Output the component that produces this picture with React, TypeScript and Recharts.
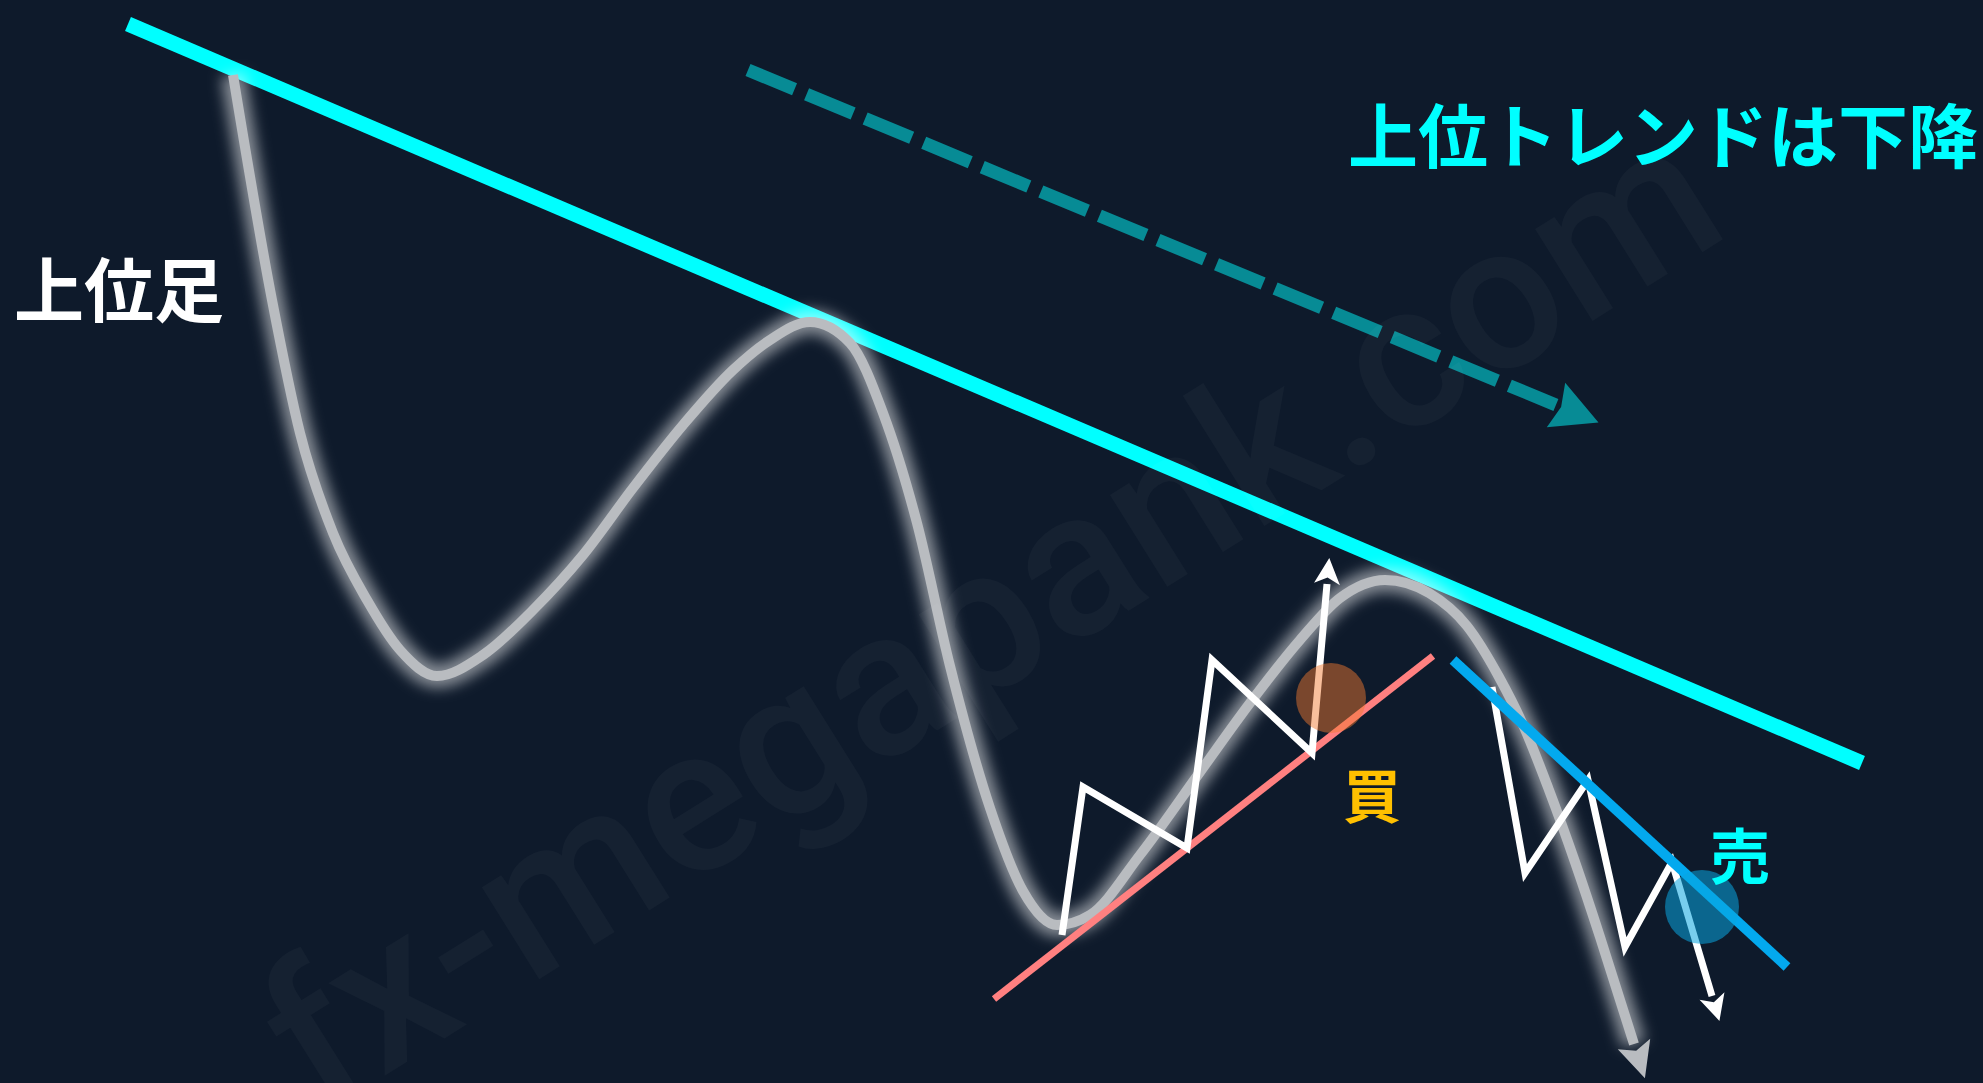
import { ComposedChart, Line, XAxis, YAxis } from 'recharts';

const W = 1983;
const H = 1083;

// long-term trend line and the dashed "down" arrow above it
const trendLine = [
  { x: 128, y: 24 },
  { x: 1862, y: 763 },
];
const trendArrow = [
  { x: 748, y: 70 },
  { x: 1556, y: 405 },
];

// higher timeframe price path (smooth wave)
const priceWave = [
  { x: 233, y: 75 },
  { x: 272, y: 300 },
  { x: 300, y: 433 },
  { x: 333, y: 533 },
  { x: 367, y: 600 },
  { x: 400, y: 650 },
  { x: 437, y: 676 },
  { x: 483, y: 655 },
  { x: 533, y: 610 },
  { x: 583, y: 555 },
  { x: 633, y: 488 },
  { x: 683, y: 425 },
  { x: 733, y: 370 },
  { x: 770, y: 340 },
  { x: 810, y: 322 },
  { x: 850, y: 343 },
  { x: 883, y: 413 },
  { x: 917, y: 523 },
  { x: 950, y: 666 },
  { x: 990, y: 808 },
  { x: 1023, y: 891 },
  { x: 1057, y: 925 },
  { x: 1090, y: 915 },
  { x: 1140, y: 855 },
  { x: 1200, y: 772 },
  { x: 1250, y: 703 },
  { x: 1300, y: 640 },
  { x: 1340, y: 598 },
  { x: 1385, y: 580 },
  { x: 1429, y: 593 },
  { x: 1467, y: 626 },
  { x: 1499, y: 677 },
  { x: 1524, y: 727 },
  { x: 1549, y: 790 },
  { x: 1575, y: 862 },
  { x: 1600, y: 937 },
  { x: 1620, y: 1000 },
  { x: 1634, y: 1044 },
];

// lower timeframe: buy side
const buySupport = [
  { x: 994, y: 999 },
  { x: 1433, y: 656 },
];
const buySwings = [
  { x: 1062, y: 935 },
  { x: 1083, y: 787 },
  { x: 1187, y: 848 },
  { x: 1212, y: 660 },
  { x: 1312, y: 753 },
  { x: 1327, y: 584 },
];
const buyPoint = [{ x: 1331, y: 698 }];

// lower timeframe: sell side
const sellResistance = [
  { x: 1453, y: 660 },
  { x: 1787, y: 967 },
];
const sellSwings = [
  { x: 1492, y: 687 },
  { x: 1525, y: 873 },
  { x: 1588, y: 780 },
  { x: 1625, y: 947 },
  { x: 1672, y: 862 },
  { x: 1712, y: 996 },
];
const sellPoint = [{ x: 1702, y: 907 }];

// texts
const trendText = '上位トレンドは下降';
const frameText = '上位足';
const buyText = '買';
const sellText = '売';
const watermarkText = 'fx-megapank.com';

const trendTextAt = [{ x: 1348, y: 163 }];
const frameTextAt = [{ x: 14, y: 317 }];
const buyTextAt = [{ x: 1372, y: 818 }];
const sellTextAt = [{ x: 1740, y: 879 }];
const watermarkAt = [{ x: 990, y: 615 }];

const JP_FONT = "'Noto Sans CJK JP', 'Noto Sans', sans-serif";

// arrow head drawn on the last point of a series, pointing along its last segment
const arrowDot =
  (data: { x: number; y: number }[], len: number, half: number, color: string, notch = 0.25) =>
  (p: any) => {
    const last = data.length - 1;
    if (p.index !== last || p.cx == null) return <g key={`a-${p.index}`} />;
    const a = data[last - 1];
    const b = data[last];
    const d = Math.hypot(b.x - a.x, b.y - a.y);
    const ux = (b.x - a.x) / d;
    const uy = (b.y - a.y) / d;
    const nx = -uy;
    const ny = ux;
    const pts = [
      [p.cx + ux * len, p.cy + uy * len],
      [p.cx + nx * half, p.cy + ny * half],
      [p.cx + ux * len * notch, p.cy + uy * len * notch],
      [p.cx - nx * half, p.cy - ny * half],
    ];
    return <polygon key={`a-${p.index}`} points={pts.map((q) => q.join(',')).join(' ')} fill={color} />;
  };

const textDot =
  (text: string, color: string, size: number, anchor: 'start' | 'middle' | 'end') =>
  (p: any) =>
    (
      <text
        key={`t-${p.index}`}
        x={p.cx}
        y={p.cy}
        fill={color}
        fontSize={size}
        fontWeight={700}
        fontFamily={JP_FONT}
        textAnchor={anchor}
      >
        {text}
      </text>
    );

const circleDot = (r: number, color: string, opacity: number) => (p: any) =>
  <circle key={`c-${p.index}`} cx={p.cx} cy={p.cy} r={r} fill={color} fillOpacity={opacity} />;

const watermarkDot = (p: any) => (
  <text
    key="wm"
    x={p.cx}
    y={p.cy}
    fill="#ffffff"
    fillOpacity={0.032}
    fontSize={205}
    fontWeight={500}
    fontFamily="Roboto, sans-serif"
    textAnchor="middle"
    dominantBaseline="central"
    transform={`rotate(-32 ${p.cx} ${p.cy})`}
  >
    {watermarkText}
  </text>
);

const common = {
  dataKey: 'y',
  isAnimationActive: false,
  activeDot: false,
  legendType: 'none' as const,
};

export default function App() {
  return (
    <div style={{ position: 'fixed', left: 0, top: 0, width: W, height: H, background: '#0e1a2b' }}>
      <ComposedChart width={W} height={H} margin={{ top: 0, right: 0, bottom: 0, left: 0 }}>
        <defs>
          <filter id="waveGlow" x="-10%" y="-10%" width="120%" height="120%">
            <feGaussianBlur stdDeviation="7" />
          </filter>
        </defs>
        <XAxis type="number" dataKey="x" domain={[0, W]} hide allowDataOverflow />
        <YAxis type="number" domain={[0, H]} reversed hide allowDataOverflow />

        <Line {...common} data={watermarkAt} stroke="none" dot={watermarkDot} />

        <Line {...common} data={trendLine} stroke="#00ffff" strokeWidth={15} dot={false} />
        <Line
          {...common}
          data={trendArrow}
          stroke="#078b95"
          strokeWidth={13}
          strokeDasharray="50.4 13"
          dot={arrowDot(trendArrow, 46, 24, '#078b95', 0.12)}
        />

        <Line
          {...common}
          data={priceWave}
          type="monotone"
          stroke="#ffffff"
          strokeOpacity={0.5}
          strokeWidth={24}
          filter="url(#waveGlow)"
          dot={false}
        />
        <Line
          {...common}
          data={priceWave}
          type="monotone"
          stroke="#b9bcc0"
          strokeWidth={10}
          dot={arrowDot(priceWave, 36, 17, '#b9bcc0', 0.2)}
        />

        <Line {...common} data={buySupport} stroke="#ff8080" strokeWidth={7} dot={false} />
        <Line {...common} data={buyPoint} stroke="none" dot={circleDot(35, '#f07a30', 0.48)} />
        <Line
          {...common}
          data={buySwings}
          stroke="#ffffff"
          strokeWidth={7}
          dot={arrowDot(buySwings, 26, 13, '#ffffff')}
        />

        <Line
          {...common}
          data={sellSwings}
          stroke="#ffffff"
          strokeWidth={7}
          dot={arrowDot(sellSwings, 26, 13, '#ffffff')}
        />
        <Line {...common} data={sellResistance} stroke="#03a9ee" strokeWidth={10} dot={false} />
        <Line {...common} data={sellPoint} stroke="none" dot={circleDot(37, '#0aa6e0', 0.55)} />

        <Line {...common} data={trendTextAt} stroke="none" dot={textDot(trendText, '#00ffff', 70, 'start')} />
        <Line {...common} data={frameTextAt} stroke="none" dot={textDot(frameText, '#ffffff', 70, 'start')} />
        <Line {...common} data={buyTextAt} stroke="none" dot={textDot(buyText, '#ffc000', 58, 'middle')} />
        <Line {...common} data={sellTextAt} stroke="none" dot={textDot(sellText, '#00ffff', 60, 'middle')} />
      </ComposedChart>
    </div>
  );
}
